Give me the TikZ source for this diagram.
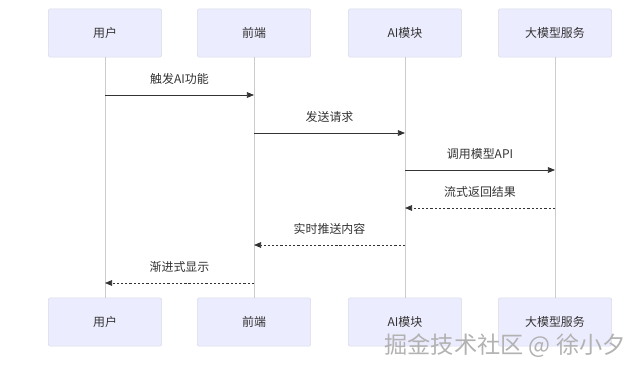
\documentclass[tikz,border=0pt]{standalone}
\usepackage{fontspec}
\setmainfont{Noto Sans CJK SC}
\usepackage{xcolor}
\usetikzlibrary{arrows.meta,positioning}

\definecolor{actorfill}{HTML}{ECECFF}
\definecolor{actorline}{HTML}{DADAEA}
\definecolor{lifeline}{HTML}{CCCCCC}
\definecolor{msgline}{HTML}{333333}

\begin{document}
\begin{tikzpicture}[x=0.025cm,y=-0.025cm,font=\fontsize{8.5}{10}\selectfont,
  actor/.style={draw=actorline,fill=actorfill,rounded corners=1.5pt,minimum width=2.83cm,minimum height=1.21cm,text=msgline},
  msg/.style={draw=msgline,line width=0.55pt,-{Triangle[length=5pt,width=4pt]}},
  reply/.style={msg,dash pattern=on 1.6pt off 1.4pt},
  lbl/.style={text=msgline,inner sep=1pt}]
\useasboundingbox (0,0) rectangle (640,364);
% participants, top row and bottom row
\node[actor] (user)  at (105,33) {用户};
\node[actor] (front) at (254,33) {前端};
\node[actor] (aimod) at (405,33) {AI模块};
\node[actor] (llm)   at (555,33) {大模型服务};
\node[actor] (userb)  at (105,322) {用户};
\node[actor] (frontb) at (254,322) {前端};
\node[actor] (aimodb) at (405,322) {AI模块};
\node[actor] (llmb)   at (555,322) {大模型服务};
% lifelines
\foreach \a in {user,front,aimod,llm}
  \draw[lifeline,line width=0.6pt] (\a.south) -- (\a b.north);
% messages
\coordinate (m1a) at (105,95);  \coordinate (m1b) at (254,95);
\coordinate (m2a) at (254,133); \coordinate (m2b) at (405,133);
\coordinate (m3a) at (405,170); \coordinate (m3b) at (555,170);
\coordinate (m4a) at (555,208); \coordinate (m4b) at (405,208);
\coordinate (m5a) at (405,245); \coordinate (m5b) at (254,245);
\coordinate (m6a) at (254,283); \coordinate (m6b) at (105,283);
\draw[msg] (m1a) -- node[lbl,above=6pt] (t1) {触发AI功能} (m1b);
\draw[msg] (m2a) -- node[lbl,above=6pt] (t2) {发送请求} (m2b);
\draw[msg] (m3a) -- node[lbl,above=6pt] (t3) {调用模型API} (m3b);
\draw[reply] (m4a) -- node[lbl,above=6pt] (t4) {流式返回结果} (m4b);
\draw[reply] (m5a) -- node[lbl,above=6pt] (t5) {实时推送内容} (m5b);
\draw[reply] (m6a) -- node[lbl,above=6pt] (t6) {渐进式显示} (m6b);
% watermark
\node[text=black!30,font=\fontsize{16.5}{18}\selectfont,anchor=east,inner sep=0pt] (mark) at (626,346) {掘金技术社区 @ 徐小夕};
\end{tikzpicture}
\end{document}
